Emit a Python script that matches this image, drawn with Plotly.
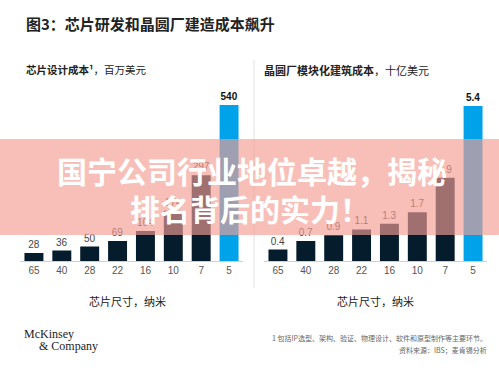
import plotly.graph_objects as go

W, H = 499, 374

nodes = ["65", "40", "28", "22", "16", "10", "7", "5"]
design_cost = [28, 36, 50, 69, 104, 174, 297, 540]
design_labels = ["28", "36", "50", "69", "104", "174", "297", "<b>540</b>"]
fab_cost = [0.4, 0.7, 0.9, 1.1, 1.3, 1.7, 2.9, 5.4]
fab_labels = ["0.4", "0.7", "0.9", "1.1", "1.3", "1.7", "2.9", "<b>5.4</b>"]

NAVY = "#051C2C"
BLUE = "#00A3EA"
colors = [NAVY] * 7 + [BLUE]
label_colors = ["#444444"] * 7 + ["#111111"]

def px(x):
    return x / W

def py(y):
    return 1 - y / H

fig = go.Figure()
fig.add_trace(go.Bar(
    x=nodes, y=design_cost, marker=dict(color=colors, line=dict(width=0)),
    text=design_labels, textposition="outside", cliponaxis=False,
    textfont=dict(size=10, color=label_colors, family="Liberation Sans"),
    xaxis="x", yaxis="y", showlegend=False, hoverinfo="skip"))
fig.add_trace(go.Bar(
    x=nodes, y=fab_cost, marker=dict(color=colors, line=dict(width=0)),
    text=fab_labels, textposition="outside", cliponaxis=False,
    textfont=dict(size=10, color=label_colors, family="Liberation Sans"),
    xaxis="x2", yaxis="y2", showlegend=False, hoverinfo="skip"))

base = py(261)
top = base + 173.3 / H
axis_common = dict(showgrid=False, zeroline=False, ticks="", showline=True,
                   linecolor="#D0D0D0", linewidth=1,
                   tickfont=dict(size=10, color="#555555", family="Liberation Sans"),
                   type="category", range=[-0.5, 7.5], fixedrange=True)
fig.update_layout(
    width=W, height=H, margin=dict(l=0, r=0, t=0, b=0),
    paper_bgcolor="white", plot_bgcolor="white",
    bargap=0.32,
    font=dict(family="Noto Sans CJK SC"),
    xaxis=dict(domain=[px(20), px(243)], anchor="y", **axis_common),
    xaxis2=dict(domain=[px(264), px(487)], anchor="y2", **axis_common),
    yaxis=dict(domain=[base, top], range=[0, 600], visible=False, anchor="x"),
    yaxis2=dict(domain=[base, top], range=[0, 6.04], visible=False, anchor="x2"),
)

ann = []
ann.append(dict(x=px(24), y=py(23), xref="paper", yref="paper", xanchor="left", yanchor="middle",
                text="<b>图3：芯片研发和晶圆厂建造成本飙升</b>", showarrow=False,
                font=dict(size=15, color="#222222", family="Noto Sans CJK SC")))
ann.append(dict(x=px(24), y=py(70), xref="paper", yref="paper", xanchor="left", yanchor="middle",
                text="<b>芯片设计成本¹</b>，百万美元", showarrow=False,
                font=dict(size=10.5, color="#222222", family="Noto Sans CJK SC")))
ann.append(dict(x=px(262), y=py(70), xref="paper", yref="paper", xanchor="left", yanchor="middle",
                text="<b>晶圆厂模块化建筑成本</b>，十亿美元", showarrow=False,
                font=dict(size=11, color="#222222", family="Noto Sans CJK SC")))
for cx in (128, 375):
    ann.append(dict(x=px(cx), y=py(301), xref="paper", yref="paper", xanchor="center", yanchor="middle",
                    text="芯片尺寸，纳米", showarrow=False,
                    font=dict(size=11, color="#222222", family="Noto Sans CJK SC")))
ann.append(dict(x=px(22), y=py(334), xref="paper", yref="paper", xanchor="left", yanchor="middle",
                text="McKinsey", showarrow=False,
                font=dict(size=12, color="#222222", family="Liberation Serif")))
ann.append(dict(x=px(37), y=py(346), xref="paper", yref="paper", xanchor="left", yanchor="middle",
                text="& Company", showarrow=False,
                font=dict(size=12, color="#222222", family="Liberation Serif")))
ann.append(dict(x=px(489), y=py(338), xref="paper", yref="paper", xanchor="right", yanchor="middle",
                text="1 包括IP选型、架构、验证、物理设计、软件和原型制作等主要环节。", showarrow=False,
                font=dict(size=7, color="#666666", family="Noto Sans CJK SC")))
ann.append(dict(x=px(489), y=py(350), xref="paper", yref="paper", xanchor="right", yanchor="middle",
                text="资料来源：IBS；麦肯锡分析", showarrow=False,
                font=dict(size=7, color="#666666", family="Noto Sans CJK SC")))
# overlay banner text
ann.append(dict(x=px(252), y=py(170), xref="paper", yref="paper", xanchor="center", yanchor="middle",
                text="<b>国宁公司行业地位卓越，揭秘</b>", showarrow=False,
                font=dict(size=30, color="white", family="Noto Sans CJK SC")))
ann.append(dict(x=px(250), y=py(208), xref="paper", yref="paper", xanchor="center", yanchor="middle",
                text="<b>排名背后的实力！</b>", showarrow=False,
                font=dict(size=30, color="white", family="Noto Sans CJK SC")))
fig.update_layout(annotations=ann)

fig.update_layout(shapes=[
    dict(type="line", xref="paper", yref="paper", x0=px(254), x1=px(254), y0=py(60), y1=py(288),
         line=dict(color="#E2E2E2", width=1), layer="below"),
    dict(type="rect", xref="paper", yref="paper", x0=0, x1=1, y0=py(235), y1=py(139),
         fillcolor="rgba(244,156,148,0.65)", line=dict(width=0), layer="above"),
])

fig.write_html("out.html", config={"displayModeBar": False},
               post_script="document.body.style.margin='0';")
